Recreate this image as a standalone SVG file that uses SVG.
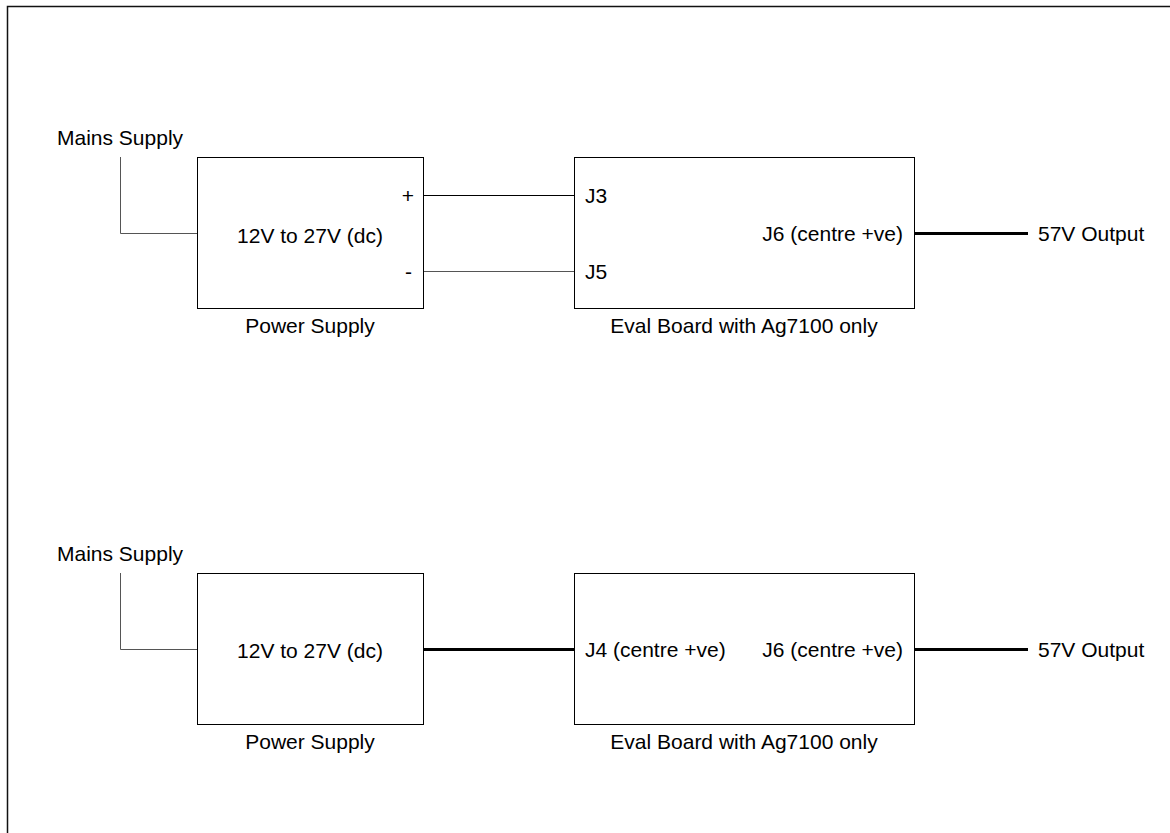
<svg xmlns="http://www.w3.org/2000/svg" width="1170" height="833" viewBox="0 0 1170 833">
<style>
text{font-family:"Liberation Sans",Arial,sans-serif;font-size:21px;fill:#000}
.box{fill:#fff;stroke:#000;stroke-width:1}
.thin{fill:none;stroke:#000;stroke-width:1}
.grey{fill:none;stroke:#555;stroke-width:1}
.thick{fill:none;stroke:#000;stroke-width:3}
.mid{text-anchor:middle}
.end{text-anchor:end}
</style>
<rect width="1170" height="833" fill="#fff"/>
<path d="M7.5,833 V6.5 H1170" fill="none" stroke="#111" stroke-width="1.5"/>
<g id="connectors">
<path class="grey" d="M120.5,157 V233.5 H197"/>
<path class="thin" d="M423,195.5 H574"/>
<path class="grey" d="M423,271.5 H574"/>
<path class="thick" d="M914,233.5 H1028"/>
<path class="grey" d="M120.5,573 V649.5 H197"/>
<path class="thick" d="M423,649.5 H574"/>
<path class="thick" d="M914,649.5 H1028"/>
</g>
<g id="mains-top"><text x="57" y="145">Mains Supply</text></g>
<g id="psu-top">
<rect class="box" x="197.5" y="157.5" width="226" height="151"/>
<text class="mid" x="310" y="242.5">12V to 27V (dc)</text>
<text class="end" x="414" y="203">+</text>
<text class="end" x="412" y="278.5">-</text>
<text class="mid" x="310" y="333">Power Supply</text>
</g>
<g id="eval-top">
<rect class="box" x="574.5" y="157.5" width="340" height="151"/>
<text x="585" y="203">J3</text>
<text x="585" y="278.5">J5</text>
<text class="end" x="903" y="241">J6 (centre +ve)</text>
<text class="mid" x="744" y="333">Eval Board with Ag7100 only</text>
</g>
<g id="out-top"><text x="1038" y="241">57V Output</text></g>
<g id="mains-bottom"><text x="57" y="561">Mains Supply</text></g>
<g id="psu-bottom">
<rect class="box" x="197.5" y="573.5" width="226" height="151"/>
<text class="mid" x="310" y="658">12V to 27V (dc)</text>
<text class="mid" x="310" y="749">Power Supply</text>
</g>
<g id="eval-bottom">
<rect class="box" x="574.5" y="573.5" width="340" height="151"/>
<text x="585" y="657">J4 (centre +ve)</text>
<text class="end" x="903" y="657">J6 (centre +ve)</text>
<text class="mid" x="744" y="749">Eval Board with Ag7100 only</text>
</g>
<g id="out-bottom"><text x="1038" y="657">57V Output</text></g>
</svg>
